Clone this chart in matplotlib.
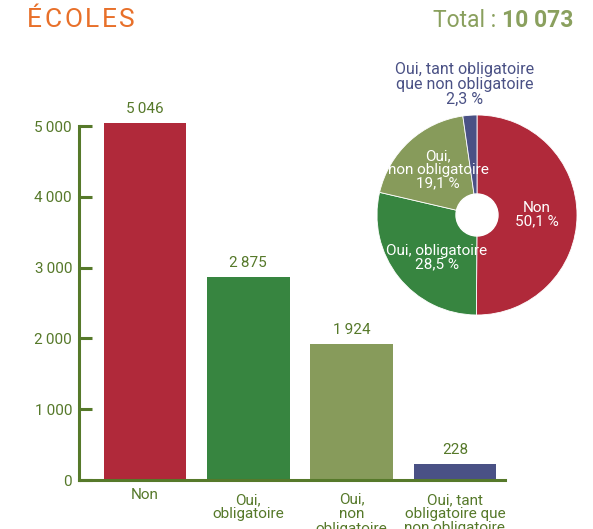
import matplotlib
matplotlib.use("Agg")
import matplotlib.pyplot as plt
import numpy as np

plt.rcParams['font.family'] = ['Roboto', 'DejaVu Sans']

categories = ["Non", "Oui,\nobligatoire", "Oui,\nnon\nobligatoire", "Oui, tant\nobligatoire que\nnon obligatoire"]
values = [5046, 2875, 1924, 228]
pie_labels = ["Non", "Oui, obligatoire", "Oui,\nnon obligatoire", "Oui, tant obligatoire\nque non obligatoire"]
pie_pcts = ["50,1 %", "28,5 %", "19,1 %", "2,3 %"]
yticks = [0, 1000, 2000, 3000, 4000, 5000]
title = "ÉCOLES"
total_label = "Total : "
total_value = "10 073"

colors = ["#b0293a", "#378540", "#879b5b", "#4a5185"]
green_dark = "#56792a"
orange = "#e8702a"
olive = "#8aa05e"
FS = 11


def fmt(v):
    s = f"{v:,}".replace(",", "\u2009")
    return s


fig = plt.figure(figsize=(5.93, 5.29), dpi=100)

# Bar chart
ax = fig.add_axes([79/593, (529-480)/529, (505-79)/593, (480-112)/529])
x = np.arange(len(categories))
ax.bar(x, values, width=0.8, color=colors)
ax.set_xlim(-0.64, 3.485)
ax.set_ylim(0, 5200)
for s in ["top", "right"]:
    ax.spines[s].set_visible(False)
ax.spines["left"].set_bounds(0, 5000)
for s in ["left", "bottom"]:
    ax.spines[s].set_color(green_dark)
    ax.spines[s].set_linewidth(2.2)
ax.set_yticks(yticks)
ax.set_yticklabels([fmt(v) for v in yticks])
ax.tick_params(axis="y", direction="in", length=9, width=2.2, color=green_dark,
               labelcolor=green_dark, labelsize=FS, pad=5)
ax.set_xticks([])
for xi, v in zip(x, values):
    ax.annotate(fmt(v), (xi, v), xytext=(0, 5), textcoords="offset points",
                ha="center", va="bottom", color=green_dark, fontsize=FS)
label_offsets = [-6, -9.5, -8.5, -9.5]
label_spacing = [1.0, 1.0, 1.1, 1.0]
for xi, lab, off, ls in zip(x, categories, label_offsets, label_spacing):
    ax.annotate(lab, (xi, 0), xytext=(0, off), textcoords="offset points",
                ha="center", va="top", color=green_dark, fontsize=FS,
                linespacing=ls, annotation_clip=False)

# Pie chart
pax = fig.add_axes([377/593, (529-315)/529, 200/593, 200/529])
wedges, _ = pax.pie(values, colors=colors, startangle=90, counterclock=False,
                    wedgeprops=dict(edgecolor="white", linewidth=0.6))
pax.add_patch(plt.Circle((0, 0), 0.21, color="white", zorder=5))
pax.set_aspect("equal")
pax.set_xlim(-1, 1)
pax.set_ylim(-1, 1)

pie_pos = [(0.60, 0.0), (-0.40, -0.43), (-0.39, 0.45)]
for (px, py), lab, pct in zip(pie_pos, pie_labels[:3], pie_pcts[:3]):
    pax.text(px, py, lab + "\n" + pct, ha="center", va="center", color="white",
             fontsize=FS, linespacing=0.95)
pax.text(-0.12, 1.08, pie_labels[3] + "\n" + pie_pcts[3], ha="center", va="bottom",
         color=colors[3], fontsize=11.5, linespacing=0.98)

# Title with letter spacing
fig.canvas.draw()
renderer = fig.canvas.get_renderer()
xpix = 27.0
for ch in title:
    tt = fig.text(xpix / 593, 1 - 27/529, ch, ha="left", va="baseline",
                  color=orange, fontsize=19)
    w = tt.get_window_extent(renderer).width
    xpix += w + 2.6

t = fig.text(573/593, 1 - 27/529, total_value, ha="right", va="baseline",
             color=olive, fontsize=16.5, fontweight="bold")
fig.canvas.draw()
bb = t.get_window_extent()
fig.text(bb.x0 / fig.bbox.width, 1 - 27/529, total_label, ha="right", va="baseline",
         color=olive, fontsize=16.5)

fig.savefig("out.png", dpi=100)
